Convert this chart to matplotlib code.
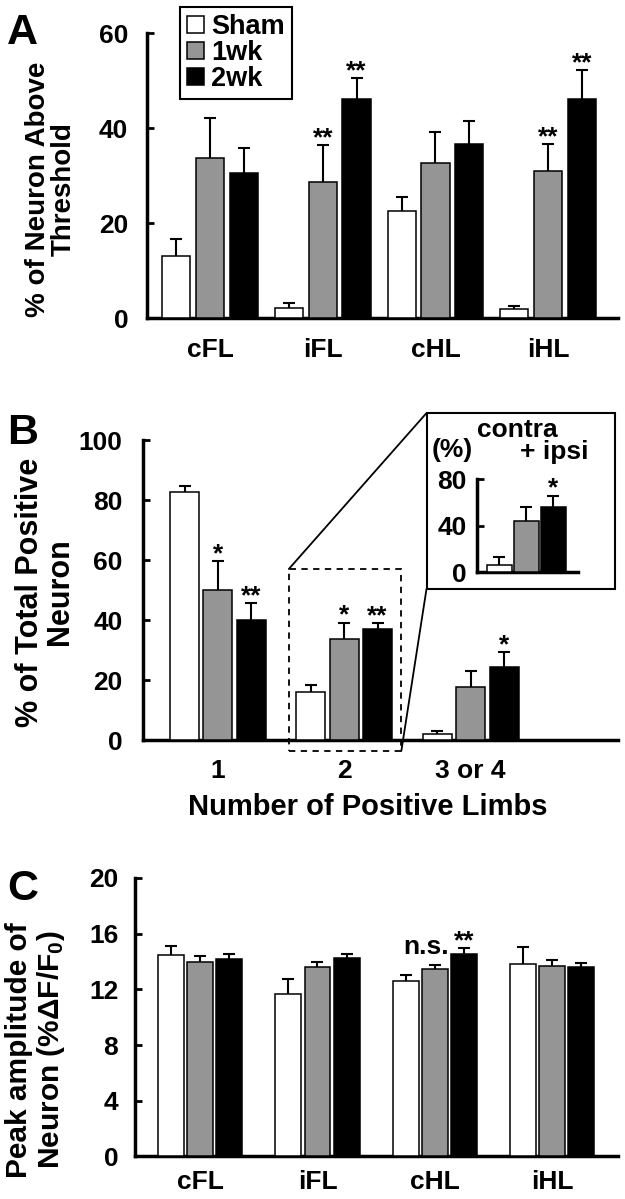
import matplotlib
matplotlib.use("Agg")
import matplotlib.pyplot as plt
from matplotlib.patches import Rectangle, ConnectionPatch
import numpy as np

plt.rcParams["font.family"] = ["Liberation Sans", "DejaVu Sans"]
plt.rcParams["font.weight"] = "bold"
plt.rcParams["mathtext.fontset"] = "custom"
plt.rcParams["mathtext.rm"] = "Liberation Sans:bold"
plt.rcParams["mathtext.it"] = "Liberation Sans:bold"
plt.rcParams["mathtext.bf"] = "Liberation Sans:bold"

# ---- data ----
series = ["Sham", "1wk", "2wk"]
limbs = ["cFL", "iFL", "cHL", "iHL"]

# A: % of neuron above threshold
a_sham = [13.1, 2.2, 22.6, 1.9]
a_sham_err = [3.7, 1.0, 2.9, 0.8]
a_1wk = [33.8, 28.8, 32.8, 31.0]
a_1wk_err = [8.3, 7.7, 6.5, 5.7]
a_2wk = [30.5, 46.1, 36.8, 46.1]
a_2wk_err = [5.4, 4.4, 4.8, 6.2]
a_1wk_sig = ["", "**", "", "**"]
a_2wk_sig = ["", "**", "", "**"]

# B: % of total positive neuron vs number of positive limbs
n_limbs = ["1", "2", "3 or 4"]
b_sham = [82.6, 15.9, 1.9]
b_sham_err = [2.2, 2.4, 1.2]
b_1wk = [50.0, 33.7, 17.6]
b_1wk_err = [9.7, 5.4, 5.4]
b_2wk = [40.0, 36.9, 24.2]
b_2wk_err = [5.6, 2.0, 5.0]
b_1wk_sig = ["*", "*", ""]
b_2wk_sig = ["**", "**", "*"]

# B inset: contra + ipsi
ins_vals = [6.0, 43.9, 55.6]
ins_err = [7.2, 12.3, 10.0]
ins_sig = ["", "", "*"]

# C: peak amplitude
c_sham = [14.47, 11.69, 12.57, 13.80]
c_sham_err = [0.62, 1.08, 0.48, 1.22]
c_1wk = [13.94, 13.58, 13.46, 13.68]
c_1wk_err = [0.43, 0.38, 0.31, 0.43]
c_2wk = [14.20, 14.23, 14.56, 13.58]
c_2wk_err = [0.36, 0.31, 0.41, 0.29]
c_1wk_sig = ["", "", "n.s.", ""]
c_2wk_sig = ["", "", "**", ""]

colors = ["white", "#959595", "black"]
TICK_FS = 19


def style_axes(ax, ymax, yticks, xlim, xpad, ypad):
    for s in ["top", "right"]:
        ax.spines[s].set_visible(False)
    for s in ["left", "bottom"]:
        ax.spines[s].set_linewidth(2.5)
    ax.set_ylim(0, ymax)
    ax.set_xlim(*xlim)
    ax.set_yticks(yticks)
    ax.tick_params(axis="y", direction="in", length=5, width=2, labelsize=TICK_FS, pad=ypad)
    ax.tick_params(axis="x", length=0, labelsize=TICK_FS, pad=xpad)


def draw_bars(ax, x, vals, errs, sigs, color, width, capsize, label=None):
    vals = np.asarray(vals)
    ax.bar(x, vals, width, color=color, edgecolor="black", linewidth=1.1,
           zorder=3, label=label)
    eb = ax.errorbar(x, vals, yerr=[np.zeros(len(vals)), errs], fmt="none",
                     ecolor="black", elinewidth=1.5, capsize=capsize,
                     capthick=1.5, zorder=2)
    # keep only the upper cap
    for cl in eb[1]:
        if np.allclose(cl.get_ydata(), vals):
            cl.set_visible(False)
    for xi, v, e, s in zip(x, vals, errs, sigs):
        if s:
            dy = 8 if s == "n.s." else 0
            dx = -6 if s == "n.s." else 0
            ax.annotate(s, (xi, v + e), xytext=(dx, dy), textcoords="offset points",
                        ha="center", va="baseline", fontsize=TICK_FS, zorder=4)


fig = plt.figure(figsize=(6.25, 11.99), dpi=100)

# ---- panel A ----
axA = fig.add_axes([0.2352, 0.7345, 0.7536, 0.2377])
pos = np.arange(len(limbs))
a_data = [(a_sham, a_sham_err, [""] * 4), (a_1wk, a_1wk_err, a_1wk_sig), (a_2wk, a_2wk_err, a_2wk_sig)]
for i, (v, e, s) in enumerate(a_data):
    draw_bars(axA, pos + (i - 1) * 0.30, v, e, s, colors[i], 0.25, 4, label=series[i])
style_axes(axA, 60, [0, 20, 40, 60], (-0.56, 3.62), 14, 13.5)
axA.set_xticks(pos)
axA.set_xticklabels(limbs)
leg = axA.legend(loc="upper left", bbox_to_anchor=(180 / 625, 1 - 7 / 1199),
                 bbox_transform=fig.transFigure, fancybox=False, edgecolor="black",
                 fontsize=19.5, handlelength=0.65, handleheight=0.6, handletextpad=0.25,
                 labelspacing=0.0, borderpad=0.25, borderaxespad=0, framealpha=1)
leg.get_frame().set_linewidth(1.5)
fig.text(0.0816, 1 - 189 / 1199, "% of Neuron Above\nThreshold", rotation=90,
         ha="center", va="center", fontsize=20, linespacing=1.0, multialignment="center")
fig.text(0.011, 1 - 44 / 1199, "A", fontsize=31, ha="left", va="baseline")

# ---- panel B ----
axB = fig.add_axes([0.2293, 0.3828, 0.7595, 0.2502])
posb = np.arange(len(n_limbs))
b_data = [(b_sham, b_sham_err, [""] * 3), (b_1wk, b_1wk_err, b_1wk_sig), (b_2wk, b_2wk_err, b_2wk_sig)]
for i, (v, e, s) in enumerate(b_data):
    draw_bars(axB, posb + (i - 1) * 0.264, v, e, s, colors[i], 0.23, 4)
style_axes(axB, 100, [0, 20, 40, 60, 80, 100], (-0.59, 3.165), 14, 15)
axB.set_xticks(posb)
axB.set_xticklabels(n_limbs)
fig.text(0.588, 1 - 807 / 1199, "Number of Positive Limbs", ha="center", va="center", fontsize=21)
fig.text(0.072, 1 - 592 / 1199, "% of Total Positive\nNeuron", rotation=90,
         ha="center", va="center", fontsize=22, linespacing=1.0, multialignment="center")
fig.text(0.011, 1 - 444 / 1199, "B", fontsize=31, ha="left", va="baseline")

# zoom box around group "2" and the inset frame
zx0, zx1, zy0, zy1 = 0.561, 1.451, -3.67, 57.0
axB.add_patch(Rectangle((zx0, zy0), zx1 - zx0, zy1 - zy0, fill=False, lw=1.3,
                        linestyle=(0, (3.5, 3)), edgecolor="black", clip_on=False, zorder=5))
bx0, by0, bx1, by1 = 0.6824, 0.5088, 0.9834, 0.6555
fig.add_artist(Rectangle((bx0, by0), bx1 - bx0, by1 - by0, fill=False, lw=1.5,
                         edgecolor="black", transform=fig.transFigure))
fig.add_artist(ConnectionPatch(xyA=(zx0, zy1), coordsA=axB.transData,
                               xyB=(bx0, by1), coordsB=fig.transFigure, lw=1.3, color="black"))
fig.add_artist(ConnectionPatch(xyA=(zx1, zy0), coordsA=axB.transData,
                               xyB=(bx0, by0), coordsB=fig.transFigure, lw=1.3, color="black"))

axI = fig.add_axes([0.7624, 0.5229, 0.1624, 0.0776])
posi = np.arange(3) - 1
for i in range(3):
    draw_bars(axI, [posi[i]], [ins_vals[i]], [ins_err[i]], [ins_sig[i]], colors[i], 0.93, 4)
style_axes(axI, 80, [0, 40, 80], (-1.85, 1.91), 0, 7)
axI.set_xticks([])
fig.text(0.7232, 1 - 450 / 1199, "(%)", ha="center", va="center", fontsize=19)
fig.text(0.8272, 1 - 430 / 1199, "contra", ha="center", va="center", fontsize=19)
fig.text(0.8864, 1 - 452 / 1199, "+ ipsi", ha="center", va="center", fontsize=19)

# ---- panel C ----
axC = fig.add_axes([0.216, 0.03545, 0.7728, 0.2323])
c_data = [(c_sham, c_sham_err, [""] * 4), (c_1wk, c_1wk_err, c_1wk_sig), (c_2wk, c_2wk_err, c_2wk_sig)]
for i, (v, e, s) in enumerate(c_data):
    draw_bars(axC, pos + (i - 1) * 0.248, v, e, s, colors[i], 0.221, 4)
style_axes(axC, 20, [0, 4, 8, 12, 16, 20], (-0.557, 3.564), 9.5, 12)
axC.set_xticks(pos)
axC.set_xticklabels(limbs)
fig.text(0.058, 1 - 1050 / 1199, "Peak amplitude of\nNeuron (%ΔF/F$_0$)", rotation=90,
         ha="center", va="center", fontsize=21.5, linespacing=1.1, multialignment="center")
fig.text(0.011, 1 - 900 / 1199, "C", fontsize=31, ha="left", va="baseline")

fig.savefig("out.png", dpi=100)
